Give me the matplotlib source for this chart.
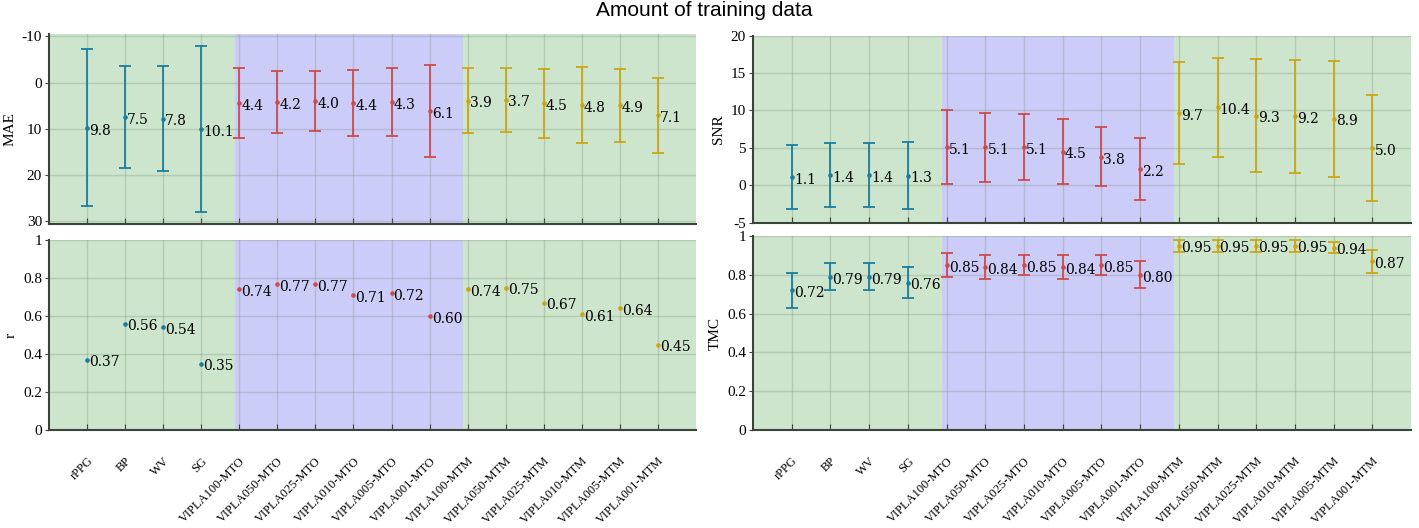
import numpy as np
import matplotlib
matplotlib.use("Agg")
import matplotlib.pyplot as plt

methods = ["rPPG", "BP", "WV", "SG",
           "VIPLA100-MTO", "VIPLA050-MTO", "VIPLA025-MTO", "VIPLA010-MTO", "VIPLA005-MTO", "VIPLA001-MTO",
           "VIPLA100-MTM", "VIPLA050-MTM", "VIPLA025-MTM", "VIPLA010-MTM", "VIPLA005-MTM", "VIPLA001-MTM"]

mae_mean = [9.8, 7.5, 7.8, 10.1, 4.4, 4.2, 4.0, 4.4, 4.3, 6.1, 3.9, 3.7, 4.5, 4.8, 4.9, 7.1]
mae_std = [17.0, 11.0, 11.4, 17.9, 7.6, 6.8, 6.5, 7.2, 7.35, 10.0, 6.95, 6.9, 7.5, 8.2, 7.9, 8.1]

r_mean = [0.37, 0.56, 0.54, 0.35, 0.74, 0.77, 0.77, 0.71, 0.72, 0.60, 0.74, 0.75, 0.67, 0.61, 0.64, 0.45]

snr_mean = [1.1, 1.4, 1.4, 1.3, 5.1, 5.1, 5.1, 4.5, 3.8, 2.2, 9.7, 10.4, 9.3, 9.2, 8.9, 5.0]
snr_std = [4.25, 4.25, 4.3, 4.45, 4.9, 4.6, 4.4, 4.3, 3.95, 4.1, 6.8, 6.6, 7.55, 7.6, 7.75, 7.1]

tmc_mean = [0.72, 0.79, 0.79, 0.76, 0.85, 0.84, 0.85, 0.84, 0.85, 0.80, 0.95, 0.95, 0.95, 0.95, 0.94, 0.87]
tmc_std = [0.09, 0.07, 0.07, 0.08, 0.06, 0.06, 0.05, 0.06, 0.05, 0.07, 0.03, 0.03, 0.03, 0.03, 0.03, 0.06]

groups = [4, 6, 6]  # traditional, MTO, MTM
group_colors = ["#1a7d9e", "#cc4b4b", "#cba614"]
bg_colors = ["#cde5cc", "#ccccf9", "#cde5cc"]
bg_edges = [0, 4.88, 10.87, 17]

plt.rcParams["font.family"] = "Liberation Serif"
plt.rcParams["axes.unicode_minus"] = False

fig = plt.figure(figsize=(14.19, 5.28), dpi=100)
axes = {
    "mae": fig.add_axes([0.0345, 0.5765, 0.4560, 0.3591]),
    "snr": fig.add_axes([0.5307, 0.5780, 0.4637, 0.3546]),
    "r": fig.add_axes([0.0345, 0.1856, 0.4560, 0.3598]),
    "tmc": fig.add_axes([0.5307, 0.1856, 0.4637, 0.3674]),
}

x = np.arange(1, len(methods) + 1)
colors = []
for c, n in zip(group_colors, groups):
    colors += [c] * n


def style(ax, ylabel, ylim, yticks, show_x):
    for i in range(3):
        ax.axvspan(bg_edges[i], bg_edges[i + 1], color=bg_colors[i], zorder=0, lw=0)
    ax.set_xlim(0, 17)
    ax.set_ylim(*ylim)
    ax.set_yticks(yticks)
    ax.set_xticks(x)
    ax.grid(True, color="#7a8f7a", alpha=0.3, lw=1)
    ax.set_axisbelow(True)
    for s in ["top", "right"]:
        ax.spines[s].set_visible(False)
    for s in ["left", "bottom"]:
        ax.spines[s].set_color("#3a453a")
        ax.spines[s].set_linewidth(1.5)
    ax.tick_params(axis="x", direction="in", length=4, color="#3a453a")
    ax.tick_params(axis="y", direction="out", length=3, color="#3a453a", labelsize=11, pad=2)
    ax.set_ylabel(ylabel, fontsize=11, labelpad=4)
    if show_x:
        ax.set_xticklabels(methods, rotation=45, ha="right", va="top",
                           rotation_mode="anchor", fontsize=9)
        ax.tick_params(axis="x", pad=18)
    else:
        ax.set_xticklabels([])


def draw(ax, mean, std, fmt):
    for i, (xi, m, c) in enumerate(zip(x, mean, colors)):
        if std is not None:
            ax.errorbar(xi, m, yerr=std[i], fmt="o", color=c, ms=2.3, lw=1.3,
                        capsize=4, capthick=1.3, zorder=3)
        else:
            ax.plot(xi, m, "o", color=c, ms=2.3, zorder=3)
        ax.annotate(fmt.format(m), (xi, m), xytext=(1.5, -2), textcoords="offset points",
                    ha="left", va="center", fontsize=10, family="DejaVu Serif", zorder=4)


style(axes["mae"], "MAE", (30.5, -10.5), [-10, 0, 10, 20, 30], False)
draw(axes["mae"], mae_mean, mae_std, "{:.1f}")

style(axes["snr"], "SNR", (-5, 20), [-5, 0, 5, 10, 15, 20], False)
draw(axes["snr"], snr_mean, snr_std, "{:.1f}")

style(axes["r"], "r", (0, 1), [0, 0.2, 0.4, 0.6, 0.8, 1], True)
draw(axes["r"], r_mean, None, "{:.2f}")

style(axes["tmc"], "TMC", (0, 1), [0, 0.2, 0.4, 0.6, 0.8, 1], True)
draw(axes["tmc"], tmc_mean, tmc_std, "{:.2f}")

for ax in [axes["r"], axes["tmc"]]:
    ax.set_yticklabels(["0", "0.2", "0.4", "0.6", "0.8", "1"])

fig.text(0.496, 0.981, "Amount of training data", ha="center", va="center",
         fontsize=15, family="Liberation Sans")

fig.savefig("out.png", dpi=100)
